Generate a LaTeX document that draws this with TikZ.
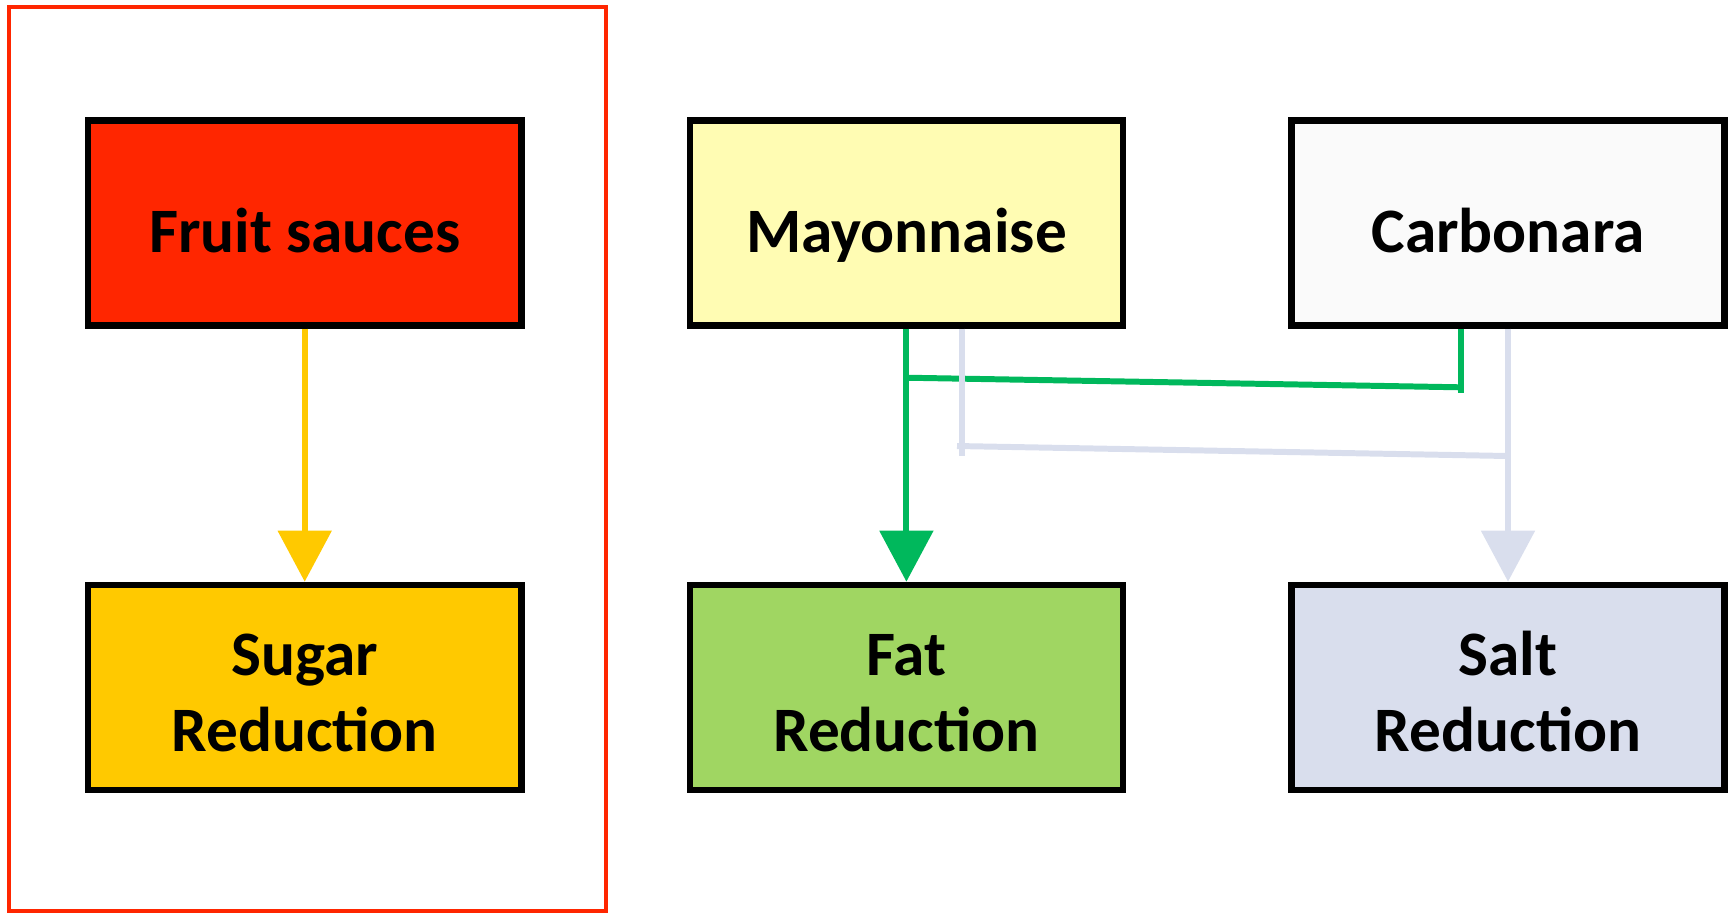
\documentclass[tikz,border=0pt]{standalone}
\usepackage{fontspec}
\setmainfont{Carlito}
\usetikzlibrary{arrows.meta, positioning}
\definecolor{fruitfill}{HTML}{FF2600}
\definecolor{sugarfill}{HTML}{FFC900}
\definecolor{mayofill}{HTML}{FFFCB3}
\definecolor{carbfill}{HTML}{FAFAFA}
\definecolor{fatfill}{HTML}{A0D662}
\definecolor{saltfill}{HTML}{D9DEED}
\definecolor{fatgreen}{HTML}{00B85C}

\begin{document}
\begin{tikzpicture}[x=0.01cm, y=-0.01cm,
    every node/.style={font=\bfseries\fontsize{18}{21.5}\selectfont},
    sauce/.style={draw=black, line width=1.8pt, minimum width=4.33cm, minimum height=2.05cm, align=center, inner sep=0pt, text height=17pt, text depth=0pt},
    goal/.style={sauce, text height=36.4pt, text depth=0pt},
    link/.style={line width=1.7pt},
    headed/.style={-{Triangle[width=15pt,length=14.5pt]}}]
                \useasboundingbox (0,0) rectangle (1731,914);
                \draw[fruitfill, line width=1.2pt] (9,7) rectangle (606,911);
                \node[sauce, fill=fruitfill] (fruit) at (304.7,223) {Fruit sauces};
                \node[goal, fill=sugarfill] (sugar) at (304.7,687.4) {Sugar\\Reduction};
                \node[sauce, fill=mayofill] (mayo) at (906.4,223) {Mayonnaise};
                \node[sauce, fill=carbfill] (carb) at (1508,223) {Carbonara};
                \node[goal, fill=fatfill] (fat) at (906.4,687.4) {Fat\\Reduction};
                \node[goal, fill=saltfill] (salt) at (1508,687.4) {Salt\\Reduction};
                \coordinate (gl) at (906.4,377.7);
                \coordinate (gr) at (1461,387.3);
                \coordinate (sl) at (957,446);
                \coordinate (sr) at (1508,456);
                \draw[link, sugarfill, headed] (fruit) -- (sugar);
                \draw[link, fatgreen] ([xshift=-0.47cm]carb.south) -- ++(0,64);
                \draw[link, fatgreen] (gl) -- (gr);
                \draw[link, fatgreen, headed] (mayo) -- (fat);
                \draw[link, saltfill] ([xshift=0.56cm]mayo.south) -- ++(0,127);
                \draw[link, saltfill] (sl) -- (sr);
                \draw[link, saltfill, headed] (carb) -- (salt);
            \end{tikzpicture}
\end{document}
